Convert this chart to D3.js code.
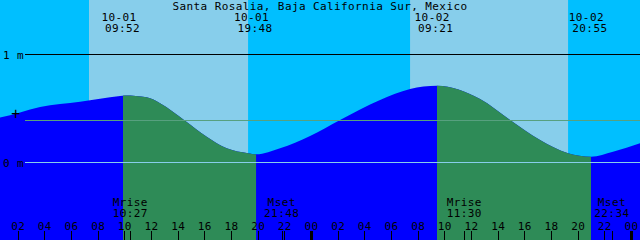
<!DOCTYPE html>
<html>
<head>
<meta charset="utf-8">
<script src="https://cdn.jsdelivr.net/npm/d3@7"></script>
<style>
  body { margin: 0; background: #fff; }
  svg { display: block; }
  text { font-family: "DejaVu Sans Mono", monospace; font-size: 11px; letter-spacing: 0.4px; fill: #000; }
</style>
</head>
<body>
<svg width="640" height="240"></svg>
<script>
// title
var title = 'Santa Rosalia, Baja California Sur, Mexico'

// tide curve, hours from 10-01 00:00 and height in metres
var tideHours  = [0.0, 0.68, 3.68, 6.68, 9.68, 10.05, 11.68, 12.68, 14.55, 16.18, 17.68, 19.28, 19.88, 21.68, 23.93, 26.18, 29.18, 31.43, 33.45, 36.68, 38.93, 41.18, 43.28, 45.0, 46.65, 48.68]
var tideMeters = [0.40, 0.412, 0.509, 0.558, 0.611, 0.616, 0.599, 0.544, 0.382, 0.234, 0.127, 0.081, 0.071, 0.127, 0.241, 0.389, 0.574, 0.676, 0.706, 0.583, 0.389, 0.204, 0.081, 0.049, 0.095, 0.173]

// falling tide (high -> low), drawn in green
var ebbStart = [9.9, 33.45]
var ebbEnd   = [19.88, 45.0]

// daylight bands
var dayStart = [7.35, 31.43]
var dayEnd   = [19.28, 43.28]

// sun events (labels at top)
var sunHours = [9.867, 19.8, 33.35, 44.917]
var sunDates = ['10-01', '10-01', '10-02', '10-02']
var sunTimes = ['09:52', '19:48', '09:21', '20:55']

// moon events (labels at bottom)
var moonHours = [10.45, 21.8, 35.5, 46.567]
var moonNames = ['Mrise', 'Mset', 'Mrise', 'Mset']
var moonTimes = ['10:27', '21:48', '11:30', '22:34']

// level lines
var levelValues = [1, 0.386, 0]
var levelLabels = ['1 m', '+', '0 m']
var levelColors = ['#000', '#57a07f', '#87ceeb']

// hour ticks
var hourTicks = d3.range(2, 49, 2)

var W = 640, H = 240
var svg = d3.select('svg')

var x = d3.scaleLinear().domain([0, 48]).range([-9, 631])
var y = d3.scaleLinear().domain([0, 1]).range([162, 54])

// sky
svg.append('rect').attr('width', W).attr('height', H).attr('fill', '#00bfff')
svg.selectAll('rect.day')
  .data(dayStart)
  .enter()
  .append('rect')
  .attr('class', 'day')
  .attr('x', (d) => x(d))
  .attr('y', 0)
  .attr('width', (d, i) => x(dayEnd[i]) - x(d))
  .attr('height', H)
  .attr('fill', '#87ceeb')

// water
var tide = tideHours.map((h, i) => [h, tideMeters[i]])
var area = d3.area()
  .x((d) => x(d[0]))
  .y0(H)
  .y1((d) => y(d[1]))
  .curve(d3.curveMonotoneX)

svg.append('path').datum(tide).attr('d', area).attr('fill', '#0000ff')

var clip = svg.append('clipPath').attr('id', 'ebb')
clip.selectAll('rect')
  .data(ebbStart)
  .enter()
  .append('rect')
  .attr('x', (d) => x(d))
  .attr('y', 0)
  .attr('width', (d, i) => x(ebbEnd[i]) - x(d))
  .attr('height', H)

svg.append('path').datum(tide).attr('d', area)
  .attr('fill', '#2e8b57')
  .attr('clip-path', 'url(#ebb)')

// level lines
svg.selectAll('line.level')
  .data(levelValues)
  .enter()
  .append('line')
  .attr('class', 'level')
  .attr('x1', 25).attr('x2', W)
  .attr('y1', (d) => Math.round(y(d)) + 0.5)
  .attr('y2', (d) => Math.round(y(d)) + 0.5)
  .attr('stroke', (d, i) => levelColors[i])
  .attr('shape-rendering', 'crispEdges')

svg.selectAll('text.level')
  .data(levelValues)
  .enter()
  .append('text')
  .attr('class', 'level')
  .attr('x', (d, i) => i === 1 ? 16 : 3)
  .attr('y', (d, i) => i === 1 ? y(d) - 1 : y(d) + 4.5)
  .attr('text-anchor', (d, i) => i === 1 ? 'middle' : 'start')
  .style('font-size', (d, i) => i === 1 ? '15px' : null)
  .text((d, i) => levelLabels[i])

// title
svg.append('text').attr('x', 320).attr('y', 10).attr('text-anchor', 'middle').text(title)

// sun labels
var sun = svg.selectAll('g.sun')
  .data(sunHours)
  .enter()
  .append('g')
  .attr('class', 'sun')
sun.append('text')
  .attr('x', (d) => x(d) - 3.5).attr('y', 21)
  .attr('text-anchor', 'middle')
  .text((d, i) => sunDates[i])
sun.append('text')
  .attr('x', (d) => x(d)).attr('y', 32)
  .attr('text-anchor', 'middle')
  .text((d, i) => sunTimes[i])

// moon labels
var moon = svg.selectAll('g.moon')
  .data(moonHours)
  .enter()
  .append('g')
  .attr('class', 'moon')
moon.append('text')
  .attr('x', (d) => x(d)).attr('y', 206)
  .attr('text-anchor', 'middle')
  .text((d, i) => moonNames[i])
moon.append('text')
  .attr('x', (d) => x(d)).attr('y', 217)
  .attr('text-anchor', 'middle')
  .text((d, i) => moonTimes[i])
moon.append('line')
  .attr('x1', (d) => Math.round(x(d)) + 0.5)
  .attr('x2', (d) => Math.round(x(d)) + 0.5)
  .attr('y1', 231).attr('y2', H)
  .attr('stroke', '#000')
  .attr('shape-rendering', 'crispEdges')

// hour axis
var axis = d3.axisTop(x)
  .tickValues(hourTicks)
  .tickSize(9)
  .tickPadding(1.5)
  .tickFormat((d) => d3.format('02d')(d % 24))

var ax = svg.append('g').attr('transform', 'translate(0,' + H + ')').call(axis)
ax.select('.domain').remove()
ax.selectAll('text').attr('font-family', null).attr('font-size', null).attr('fill', '#000')
ax.selectAll('line')
  .attr('stroke', '#000')
  .attr('stroke-width', (d) => d % 24 === 0 ? 3 : 1)
  .attr('shape-rendering', 'crispEdges')
</script>
</body>
</html>
